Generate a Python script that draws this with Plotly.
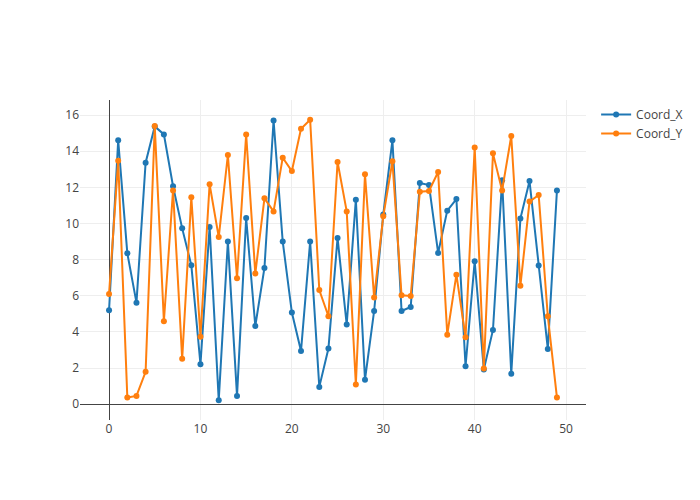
import plotly.graph_objects as go

index = list(range(50))
coord_x = [5.2, 14.6, 8.35, 5.62, 13.36, 15.37, 14.93, 12.06, 9.73, 7.69,
           2.21, 9.81, 0.22, 9.01, 0.46, 10.3, 4.33, 7.54, 15.7, 9.0,
           5.07, 2.95, 9.0, 0.96, 3.08, 9.2, 4.41, 11.32, 1.36, 5.16,
           10.5, 14.6, 5.16, 5.38, 12.24, 12.13, 8.37, 10.71, 11.35, 2.1,
           7.91, 1.92, 4.11, 12.39, 1.68, 10.27, 12.35, 7.67, 3.06, 11.83]
coord_y = [6.1, 13.47, 0.37, 0.46, 1.79, 15.39, 4.59, 11.83, 2.51, 11.45,
           3.74, 12.17, 9.25, 13.79, 6.97, 14.93, 7.23, 11.39, 10.67, 13.64,
           12.9, 15.24, 15.74, 6.32, 4.87, 13.4, 10.67, 1.09, 12.72, 5.9,
           10.4, 13.44, 6.03, 5.99, 11.76, 11.8, 12.85, 3.85, 7.17, 3.7,
           14.21, 1.97, 13.88, 11.83, 14.84, 6.56, 11.21, 11.58, 4.87, 0.37]

fig = go.Figure()
fig.add_trace(go.Scatter(x=index, y=coord_x, mode="lines+markers", name="Coord_X",
                         line=dict(color="#1f77b4", width=2), marker=dict(size=6)))
fig.add_trace(go.Scatter(x=index, y=coord_y, mode="lines+markers", name="Coord_Y",
                         line=dict(color="#ff7f0e", width=2), marker=dict(size=6)))
fig.update_layout(
    template="none",
    width=700, height=500,
    font=dict(family="Open Sans", color="#444"),
    paper_bgcolor="white", plot_bgcolor="white",
    xaxis=dict(showgrid=True, gridcolor="#eee", zeroline=True, zerolinecolor="#444",
               zerolinewidth=1, tickvals=[0, 10, 20, 30, 40, 50]),
    yaxis=dict(showgrid=True, gridcolor="#eee", zeroline=True, zerolinecolor="#444",
               zerolinewidth=1, tickvals=[0, 2, 4, 6, 8, 10, 12, 14, 16]),
)
fig.write_html("out.html", config={"displayModeBar": False},
               post_script="document.body.style.margin='0';")
